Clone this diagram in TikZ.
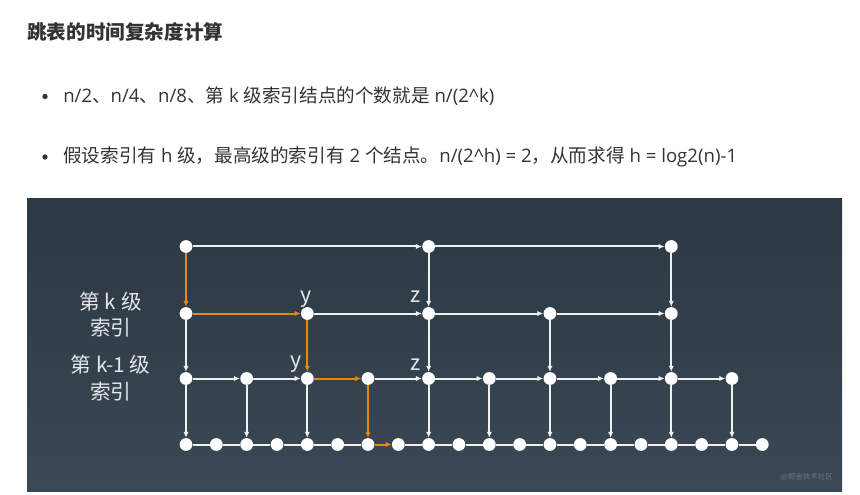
\documentclass[tikz,border=0pt]{standalone}
\usepackage{fontspec}
\setmainfont{Noto Sans CJK SC}
\newfontfamily\latf{Open Sans}
\usetikzlibrary{arrows.meta}
\definecolor{txt}{HTML}{333333}
\definecolor{bgtop}{HTML}{2C3843}
\definecolor{bgbot}{HTML}{3A4855}
\definecolor{org}{HTML}{E8890C}
\definecolor{wht}{HTML}{F0F0F0}
\definecolor{lab}{HTML}{E4E6E8}
\definecolor{wm}{HTML}{6A7683}
\begin{document}
\begin{tikzpicture}[x=0.75pt,y=0.75pt,
  dot/.style={circle,fill=white,inner sep=0pt,minimum size=9.6pt},
  wl/.style={draw=wht,line width=1.5pt},
  wa/.style={wl,-{Latex[length=4.5pt,width=4pt]}},
  oa/.style={draw=org,line width=1.5pt,-{Latex[length=4.5pt,width=4pt]}},
  lbl/.style={text=lab,font=\fontsize{16}{18}\selectfont,inner sep=0pt},
  side/.style={text=lab,font=\fontsize{15.5}{18}\selectfont,inner sep=0pt},
  bul/.style={text=txt,font=\fontsize{13.95}{16}\selectfont,inner sep=0pt,anchor=west},
  bdot/.style={circle,fill=txt,inner sep=0pt,minimum size=4pt}]
\useasboundingbox (0,0) rectangle (860,-495);
\fill[white] (0,0) rectangle (860,-495);
% header texts
\node[text=txt,font=\fontsize{14.7}{16}\selectfont\bfseries,inner sep=0pt,anchor=west] (title) at (27,-31.5) {跳表的时间复杂度计算};
\node[bdot] (d1) at (45,-96.5) {};
\node[bul] (l1) at (63,-96.5) {{\latf n/2}、{\latf n/4}、{\latf n/8}、第{\latf\ k }级索引结点的个数就是{\latf\ n/(2\^{}k)}};
\node[bdot] (d2) at (45,-157) {};
\node[bul] (l2) at (63,-157) {假设索引有{\latf\ h }级，最高级的索引有{\latf\ 2 }个结点。{\latf n/(2\^{}h) = 2}，从而求得{\latf\ h = log2(n)-1}};
% background picture
\shade[top color=bgtop,bottom color=bgbot] (27,-199) rectangle (842,-491);
% nodes
\foreach \i in {0,...,19} \node[dot] (b\i) at ({186+30.33*\i},-444.5) {};
\foreach \i in {0,2,...,18} \node[dot] (m\i) at ({186+30.33*\i},-378.5) {};
\foreach \i in {0,4,...,16} \node[dot] (k\i) at ({186+30.33*\i},-313.5) {};
\foreach \i in {0,8,16} \node[dot] (t\i) at ({186+30.33*\i},-246.5) {};
% top level
\draw[wa] (t0) -- (t8);
\draw[wa] (t8) -- (t16);
\draw[oa] (t0) -- (k0);
\draw[wa] (t8) -- (k8);
\draw[wa] (t16) -- (k16);
% level k
\draw[oa] (k0) -- (k4);
\foreach \a/\b in {4/8,8/12,12/16} \draw[wa] (k\a) -- (k\b);
\foreach \a in {0,8,12,16} \draw[wa] (k\a) -- (m\a);
\draw[oa] (k4) -- (m4);
% level k-1
\foreach \a/\b in {0/2,2/4,6/8,8/10,10/12,12/14,14/16,16/18} \draw[wa] (m\a) -- (m\b);
\draw[oa] (m4) -- (m6);
\foreach \a in {0,2,4,8,10,12,14,16,18} \draw[wa] (m\a) -- (b\a);
\draw[oa] (m6) -- (b6);
% bottom level
\foreach \a/\b in {0/1,1/2,2/3,3/4,4/5,5/6,7/8,8/9,9/10,10/11,11/12,12/13,13/14,14/15,15/16,16/17,17/18,18/19} \draw[wl] (b\a) -- (b\b);
\draw[oa] (b6) -- (b7);
% labels
\node[lbl,anchor=base] (y1) at (306,-302) {y};
\node[lbl,anchor=base] (y2) at (296,-367) {y};
\node[lbl,anchor=base] (z1) at (416,-302) {z};
\node[lbl,anchor=base] (z2) at (416,-370) {z};
\node[side] (s1) at (110.7,-301.5) {第 k 级};
\node[side] (s2) at (110.7,-328) {索引};
\node[side] (s3) at (110.7,-365) {第 k-1 级};
\node[side] (s4) at (110.7,-391.5) {索引};
\node[text=wm,font=\fontsize{5.6}{6}\selectfont,inner sep=0pt,anchor=east] (wmk) at (833,-476.7) {@掘金技术社区};
\end{tikzpicture}
\end{document}
